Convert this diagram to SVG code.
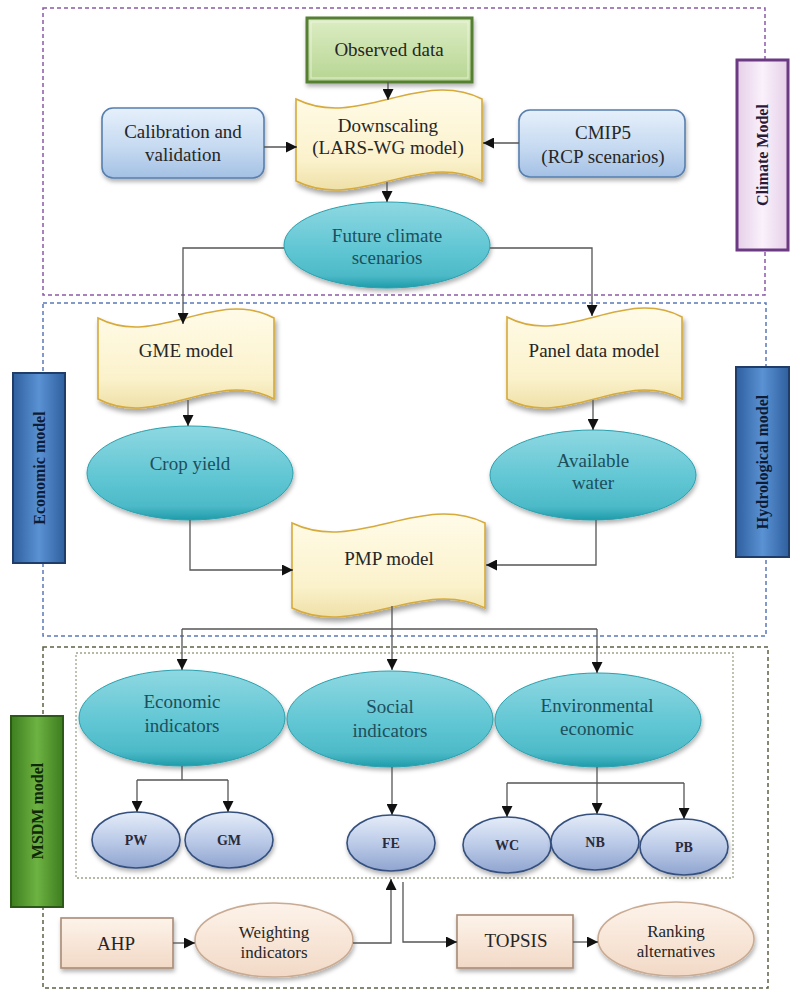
<svg xmlns="http://www.w3.org/2000/svg" width="791" height="991" viewBox="0 0 791 991">
  <defs>
    <style>
      text { font-family: "Liberation Serif", "Times New Roman", serif; font-size: 19px; fill: #262626; text-anchor: middle; }
      .teal-t { fill: #1d4f5c; }
      .small { font-size: 14px; font-weight: bold; fill: #2a2a3a; }
      .mid { font-size: 17px; }
      .lbl { font-size: 16px; font-weight: bold; }
      .teal { fill: url(#gTeal); stroke: #2aa0ad; stroke-width: 1; filter: url(#sh); }
      .blueell { fill: url(#gBlueEll); stroke: #34507e; stroke-width: 1.6; filter: url(#sh); }
      .cream { fill: url(#gCream); stroke: #d6aa3a; stroke-width: 1.6; filter: url(#shW); }
      .lblue { fill: url(#gLBlue); stroke: #577fae; stroke-width: 1.6; filter: url(#sh); }
      .peach { fill: url(#gPeach); stroke: #a98b76; stroke-width: 1.6; filter: url(#sh); }
      .conn { fill: none; stroke: #555; stroke-width: 1.3; }
      .arr { marker-end: url(#ah); }
    </style>
    <linearGradient id="gTeal" x1="0" y1="0" x2="0" y2="1">
      <stop offset="0" stop-color="#8ed8e2"/>
      <stop offset="0.55" stop-color="#60c6d3"/>
      <stop offset="0.85" stop-color="#4dbac8"/>
      <stop offset="1" stop-color="#1f9caa"/>
    </linearGradient>
    <linearGradient id="gBlueEll" x1="0" y1="0" x2="0" y2="1">
      <stop offset="0" stop-color="#e4ecf8"/>
      <stop offset="0.5" stop-color="#bccbe8"/>
      <stop offset="1" stop-color="#8fa4cf"/>
    </linearGradient>
    <linearGradient id="gCream" x1="0" y1="0" x2="0" y2="1">
      <stop offset="0" stop-color="#fffbe8"/>
      <stop offset="0.7" stop-color="#fbf2cc"/>
      <stop offset="1" stop-color="#efe0a8"/>
    </linearGradient>
    <linearGradient id="gLBlue" x1="0" y1="0" x2="0" y2="1">
      <stop offset="0" stop-color="#e6f0fb"/>
      <stop offset="0.6" stop-color="#c3d8f0"/>
      <stop offset="1" stop-color="#a3c0e4"/>
    </linearGradient>
    <linearGradient id="gGreen" x1="0" y1="0" x2="0" y2="1">
      <stop offset="0" stop-color="#dcedc4"/>
      <stop offset="1" stop-color="#b7d592"/>
    </linearGradient>
    <linearGradient id="gPeach" x1="0" y1="0" x2="0" y2="1">
      <stop offset="0" stop-color="#fdf3ea"/>
      <stop offset="1" stop-color="#f2d9c6"/>
    </linearGradient>
    <linearGradient id="gLav" x1="0" y1="0" x2="1" y2="0">
      <stop offset="0" stop-color="#e6cfe9"/>
      <stop offset="0.5" stop-color="#faf1fb"/>
      <stop offset="1" stop-color="#e6cfe9"/>
    </linearGradient>
    <linearGradient id="gBlueLbl" x1="0" y1="0" x2="1" y2="0">
      <stop offset="0" stop-color="#2f5f9e"/>
      <stop offset="0.5" stop-color="#5a92d4"/>
      <stop offset="1" stop-color="#2f5f9e"/>
    </linearGradient>
    <linearGradient id="gGreenLbl" x1="0" y1="0" x2="1" y2="0">
      <stop offset="0" stop-color="#3d7d1f"/>
      <stop offset="0.5" stop-color="#6db342"/>
      <stop offset="1" stop-color="#3d7d1f"/>
    </linearGradient>
    <filter id="sh" x="-20%" y="-20%" width="140%" height="150%">
      <feDropShadow dx="1" dy="3" stdDeviation="2" flood-color="#000" flood-opacity="0.3"/>
    </filter>
    <filter id="shW" x="-20%" y="-20%" width="140%" height="150%">
      <feDropShadow dx="2" dy="4" stdDeviation="2.5" flood-color="#000" flood-opacity="0.35"/>
    </filter>
    <marker id="ah" viewBox="0 0 10 10" refX="10" refY="5" markerWidth="11" markerHeight="11" markerUnits="userSpaceOnUse" orient="auto">
      <path d="M0,0 L10,5 L0,10 z" fill="#111"/>
    </marker>
  </defs>

  <!-- module frames -->
  <g id="frames" fill="none">
    <rect x="43" y="8" width="722" height="287" stroke="#8a5aa8" stroke-width="1.5" stroke-dasharray="4 3"/>
    <rect x="43" y="303" width="723" height="333" stroke="#5b78b8" stroke-width="1.5" stroke-dasharray="4 3"/>
    <rect x="43" y="647" width="725" height="341" stroke="#5e6244" stroke-width="1.5" stroke-dasharray="4 3"/>
    <rect x="76" y="653" width="657" height="225" stroke="#9ba58a" stroke-width="1.3" stroke-dasharray="2 2"/>
  </g>

  <!-- climate module -->
  <g id="observed">
    <rect x="307" y="18" width="165" height="64" fill="url(#gGreen)" stroke="#557f30" stroke-width="3" filter="url(#sh)"/>
    <rect x="311" y="22" width="157" height="56" fill="none" stroke="#eef7e2" stroke-width="1" opacity="0.8"/>
    <text x="389" y="56">Observed data</text>
  </g>
  <g id="calibration">
    <rect x="102" y="108" width="162" height="70" rx="11" class="lblue"/>
    <text x="183" y="138">Calibration and</text>
    <text x="183" y="161">validation</text>
  </g>
  <g id="downscaling">
    <path class="cream" d="M296,99 C358,130 420,68 482,99 L482,181 C420,150 358,212 296,181 Z"/>
    <text x="388" y="132">Downscaling</text>
    <text x="388" y="154">(LARS-WG model)</text>
  </g>
  <g id="cmip5">
    <rect x="519" y="110" width="166" height="67" rx="11" class="lblue"/>
    <text x="603" y="139">CMIP5</text>
    <text x="603" y="163">(RCP scenarios)</text>
  </g>
  <g id="future">
    <ellipse cx="387" cy="245" rx="103" ry="43" class="teal"/>
    <text class="teal-t" x="387" y="242">Future climate</text>
    <text class="teal-t" x="387" y="264">scenarios</text>
  </g>

  <!-- economic / hydrological module -->
  <g id="gme">
    <path class="cream" d="M98,318 C157,349 215,287 274,318 L274,399 C215,368 157,430 98,399 Z"/>
    <text x="186" y="357">GME model</text>
  </g>
  <g id="panel">
    <path class="cream" d="M507,317 C565,348 624,286 682,317 L682,399 C624,368 565,430 507,399 Z"/>
    <text x="594" y="357">Panel data model</text>
  </g>
  <g id="crop">
    <ellipse cx="190" cy="473" rx="103" ry="47" class="teal"/>
    <text class="teal-t" x="190" y="470">Crop yield</text>
  </g>
  <g id="water">
    <ellipse cx="593" cy="475" rx="103" ry="45" class="teal"/>
    <text class="teal-t" x="593" y="467">Available</text>
    <text class="teal-t" x="593" y="489">water</text>
  </g>
  <g id="pmp">
    <path class="cream" d="M292,523 C356,554 421,492 485,523 L485,608 C421,577 356,639 292,608 Z"/>
    <text x="389" y="565">PMP model</text>
  </g>

  <!-- MSDM module -->
  <g id="econ-ind">
    <ellipse cx="182" cy="718" rx="103" ry="48" class="teal"/>
    <text class="teal-t" x="182" y="708">Economic</text>
    <text class="teal-t" x="182" y="732">indicators</text>
  </g>
  <g id="social-ind">
    <ellipse cx="390" cy="719" rx="103" ry="48" class="teal"/>
    <text class="teal-t" x="390" y="713">Social</text>
    <text class="teal-t" x="390" y="737">indicators</text>
  </g>
  <g id="env-ind">
    <ellipse cx="598" cy="720" rx="103" ry="47" class="teal"/>
    <text class="teal-t" x="597" y="712">Environmental</text>
    <text class="teal-t" x="597" y="735">economic</text>
  </g>
  <g id="pw">
    <ellipse cx="136" cy="840" rx="44" ry="28" class="blueell"/>
    <text class="small" x="136" y="845">PW</text>
  </g>
  <g id="gm">
    <ellipse cx="229" cy="840" rx="44" ry="28" class="blueell"/>
    <text class="small" x="229" y="845">GM</text>
  </g>
  <g id="fe">
    <ellipse cx="391" cy="843" rx="44" ry="28" class="blueell"/>
    <text class="small" x="391" y="848">FE</text>
  </g>
  <g id="wc">
    <ellipse cx="507" cy="845" rx="44" ry="28" class="blueell"/>
    <text class="small" x="507" y="850">WC</text>
  </g>
  <g id="nb">
    <ellipse cx="595" cy="842" rx="44" ry="28" class="blueell"/>
    <text class="small" x="595" y="847">NB</text>
  </g>
  <g id="pb">
    <ellipse cx="684" cy="847" rx="44" ry="28" class="blueell"/>
    <text class="small" x="684" y="852">PB</text>
  </g>
  <g id="ahp">
    <rect x="61" y="918" width="112" height="50" class="peach"/>
    <text x="116" y="950">AHP</text>
  </g>
  <g id="weighting">
    <ellipse cx="274" cy="940" rx="79" ry="37" fill="url(#gPeach)" stroke="#c9ab93" stroke-width="1.6" filter="url(#sh)"/>
    <text class="mid" x="274" y="938">Weighting</text>
    <text class="mid" x="274" y="958">indicators</text>
  </g>
  <g id="topsis">
    <rect x="457" y="915" width="116" height="53" class="peach"/>
    <text x="516" y="947">TOPSIS</text>
  </g>
  <g id="ranking">
    <ellipse cx="676" cy="939" rx="78" ry="37" fill="url(#gPeach)" stroke="#c9ab93" stroke-width="1.6" filter="url(#sh)"/>
    <text class="mid" x="676" y="937">Ranking</text>
    <text class="mid" x="676" y="957">alternatives</text>
  </g>

  <!-- connectors -->
  <g id="connectors">
    <path class="conn arr" d="M388,82 L388,100"/>
    <path class="conn arr" d="M387,182 L387,202"/>
    <path class="conn arr" d="M264,147 L297,147"/>
    <path class="conn arr" d="M519,143 L483,143"/>
    <path class="conn arr" d="M284,248 L183,248 L183,324"/>
    <path class="conn arr" d="M490,248 L592,248 L592,316"/>
    <path class="conn arr" d="M188,400 L188,426"/>
    <path class="conn arr" d="M593,400 L593,430"/>
    <path class="conn arr" d="M190,520 L190,570 L293,570"/>
    <path class="conn arr" d="M596,520 L596,565 L486,565"/>
    <path class="conn arr" d="M392,606 L392,670"/>
    <path class="conn" d="M182,629 L597,629"/>
    <path class="conn arr" d="M182,629 L182,670"/>
    <path class="conn arr" d="M597,629 L597,673"/>
    <path class="conn" d="M182,766 L182,780 M137,780 L228,780"/>
    <path class="conn arr" d="M137,780 L137,812"/>
    <path class="conn arr" d="M228,780 L228,812"/>
    <path class="conn arr" d="M392,767 L392,815"/>
    <path class="conn arr" d="M597,767 L597,814"/>
    <path class="conn" d="M507,783 L684,783"/>
    <path class="conn arr" d="M507,783 L507,817"/>
    <path class="conn arr" d="M684,783 L684,819"/>
    <path class="conn arr" d="M173,943 L195,943"/>
    <path class="conn arr" d="M353,943 L391,943 L391,879"/>
    <path class="conn arr" d="M403,882 L403,942 L457,942"/>
    <path class="conn arr" d="M573,942 L598,942"/>
  </g>

  <!-- module labels -->
  <g id="label-climate">
    <rect x="737" y="60" width="51" height="190" fill="url(#gLav)" stroke="#6b3a82" stroke-width="3"/>
    <text class="lbl" transform="translate(768,155) rotate(-90)" style="fill:#2a1a38">Climate Model</text>
  </g>
  <g id="label-economic">
    <rect x="13" y="373" width="52" height="190" fill="url(#gBlueLbl)" stroke="#1e3d68" stroke-width="2"/>
    <text class="lbl" transform="translate(45,468) rotate(-90)" style="fill:#0e1c36">Economic model</text>
  </g>
  <g id="label-hydro">
    <rect x="736" y="367" width="53" height="190" fill="url(#gBlueLbl)" stroke="#1e3d68" stroke-width="2"/>
    <text class="lbl" transform="translate(768,462) rotate(-90)" style="fill:#0e1c36">Hydrological model</text>
  </g>
  <g id="label-msdm">
    <rect x="11" y="716" width="52" height="191" fill="url(#gGreenLbl)" stroke="#2c5a16" stroke-width="2"/>
    <text class="lbl" transform="translate(43,811) rotate(-90)" style="fill:#102808">MSDM model</text>
  </g>
</svg>
